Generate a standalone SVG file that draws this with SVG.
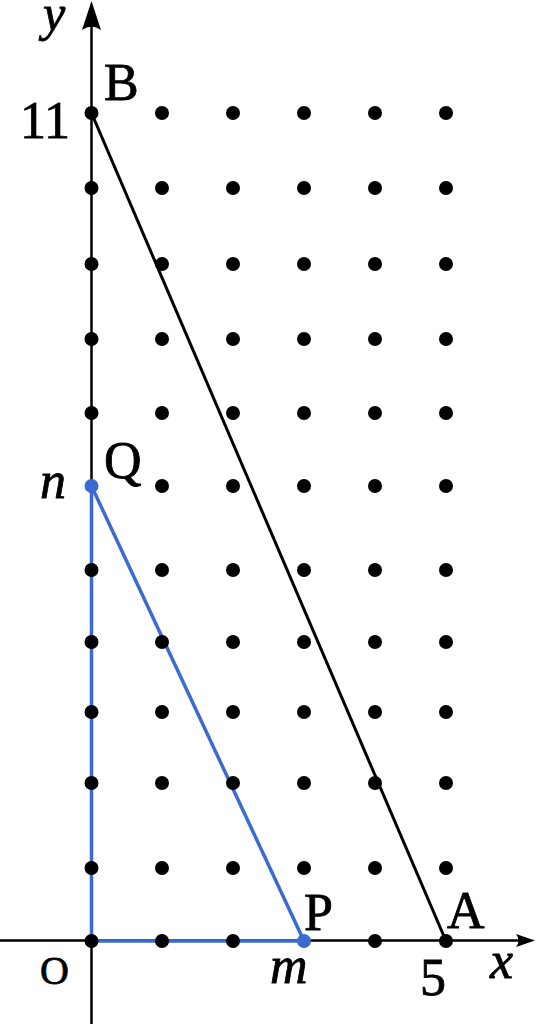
<svg xmlns="http://www.w3.org/2000/svg" width="536" height="1024" viewBox="0 0 536 1024">
<style>
  .axis{stroke:#000;stroke-width:2.5;fill:none}
  .seg{stroke:#000;stroke-width:3;fill:none}
  .blue{stroke:#3a6bd0;stroke-width:3.5;fill:none;stroke-linejoin:round}
  .dot{fill:#000}
  .bdot{fill:#3a6bd0}
  .t{font-family:"Liberation Serif","DejaVu Serif",serif;font-size:52px;fill:#000;stroke:#000;stroke-width:0.8}
  .i{font-style:italic}
</style>
<g id="axes">
  <line class="axis" x1="0" y1="940.5" x2="530" y2="940.5"/>
  <path d="M535,940.5 L516,934 Q521,940.5 516,947 Z" fill="#000"/>
  <line class="axis" x1="91.5" y1="1024" x2="91.5" y2="8"/>
  <path d="M91.5,1 L82,30 Q91.5,23 101,30 Z" fill="#000"/>
</g>
<g id="connectors">
  <line class="seg" x1="91.5" y1="113" x2="446" y2="941"/>
  <polyline class="blue" points="91.5,486 91.5,941 304,941"/>
  <line class="blue" x1="91.5" y1="486" x2="304" y2="941"/>
</g>
<g id="grid">
  <g id="row0"><circle class="dot" cx="91.5" cy="941" r="7"/><circle class="dot" cx="162" cy="941" r="7"/><circle class="dot" cx="233" cy="941" r="7"/><circle class="dot" cx="375" cy="941" r="7"/><circle class="dot" cx="446" cy="941" r="7"/></g>
  <g id="row1"><circle class="dot" cx="91.5" cy="868" r="7"/><circle class="dot" cx="162" cy="868" r="7"/><circle class="dot" cx="233" cy="868" r="7"/><circle class="dot" cx="304" cy="868" r="7"/><circle class="dot" cx="375" cy="868" r="7"/><circle class="dot" cx="446" cy="868" r="7"/></g>
  <g id="row2"><circle class="dot" cx="91.5" cy="783" r="7"/><circle class="dot" cx="162" cy="783" r="7"/><circle class="dot" cx="233" cy="783" r="7"/><circle class="dot" cx="304" cy="783" r="7"/><circle class="dot" cx="375" cy="783" r="7"/><circle class="dot" cx="446" cy="783" r="7"/></g>
  <g id="row3"><circle class="dot" cx="91.5" cy="712" r="7"/><circle class="dot" cx="162" cy="712" r="7"/><circle class="dot" cx="233" cy="712" r="7"/><circle class="dot" cx="304" cy="712" r="7"/><circle class="dot" cx="375" cy="712" r="7"/><circle class="dot" cx="446" cy="712" r="7"/></g>
  <g id="row4"><circle class="dot" cx="91.5" cy="642" r="7"/><circle class="dot" cx="162" cy="642" r="7"/><circle class="dot" cx="233" cy="642" r="7"/><circle class="dot" cx="304" cy="642" r="7"/><circle class="dot" cx="375" cy="642" r="7"/><circle class="dot" cx="446" cy="642" r="7"/></g>
  <g id="row5"><circle class="dot" cx="91.5" cy="570" r="7"/><circle class="dot" cx="162" cy="570" r="7"/><circle class="dot" cx="233" cy="570" r="7"/><circle class="dot" cx="304" cy="570" r="7"/><circle class="dot" cx="375" cy="570" r="7"/><circle class="dot" cx="446" cy="570" r="7"/></g>
  <g id="row6"><circle class="dot" cx="162" cy="486" r="7"/><circle class="dot" cx="233" cy="486" r="7"/><circle class="dot" cx="304" cy="486" r="7"/><circle class="dot" cx="375" cy="486" r="7"/><circle class="dot" cx="446" cy="486" r="7"/></g>
  <g id="row7"><circle class="dot" cx="91.5" cy="413" r="7"/><circle class="dot" cx="162" cy="413" r="7"/><circle class="dot" cx="233" cy="413" r="7"/><circle class="dot" cx="304" cy="413" r="7"/><circle class="dot" cx="375" cy="413" r="7"/><circle class="dot" cx="446" cy="413" r="7"/></g>
  <g id="row8"><circle class="dot" cx="91.5" cy="339" r="7"/><circle class="dot" cx="162" cy="339" r="7"/><circle class="dot" cx="233" cy="339" r="7"/><circle class="dot" cx="304" cy="339" r="7"/><circle class="dot" cx="375" cy="339" r="7"/><circle class="dot" cx="446" cy="339" r="7"/></g>
  <g id="row9"><circle class="dot" cx="91.5" cy="264" r="7"/><circle class="dot" cx="162" cy="264" r="7"/><circle class="dot" cx="233" cy="264" r="7"/><circle class="dot" cx="304" cy="264" r="7"/><circle class="dot" cx="375" cy="264" r="7"/><circle class="dot" cx="446" cy="264" r="7"/></g>
  <g id="row10"><circle class="dot" cx="91.5" cy="188" r="7"/><circle class="dot" cx="162" cy="188" r="7"/><circle class="dot" cx="233" cy="188" r="7"/><circle class="dot" cx="304" cy="188" r="7"/><circle class="dot" cx="375" cy="188" r="7"/><circle class="dot" cx="446" cy="188" r="7"/></g>
  <g id="row11"><circle class="dot" cx="91.5" cy="113" r="7"/><circle class="dot" cx="162" cy="113" r="7"/><circle class="dot" cx="233" cy="113" r="7"/><circle class="dot" cx="304" cy="113" r="7"/><circle class="dot" cx="375" cy="113" r="7"/><circle class="dot" cx="446" cy="113" r="7"/></g>
</g>
<g id="Q"><circle class="bdot" cx="91.5" cy="486" r="7"/><text class="t" x="104" y="478">Q</text><text class="t i" x="40" y="498">n</text></g>
<g id="P"><circle class="bdot" cx="304" cy="941" r="7"/><text class="t" x="304" y="930">P</text><text class="t i" x="270" y="983">m</text></g>
<g id="A"><text class="t" x="447" y="928">A</text><text class="t" x="420" y="995">5</text></g>
<g id="B"><text class="t" x="104" y="100">B</text><text class="t" x="20" y="138">11</text></g>
<g id="O"><text class="t" x="40" y="984" style="font-size:40px">O</text></g>
<g id="labels">
  <text class="t i" x="490" y="978">x</text>
  <text class="t i" x="43" y="30" style="font-size:50px">y</text>
</g>
</svg>
